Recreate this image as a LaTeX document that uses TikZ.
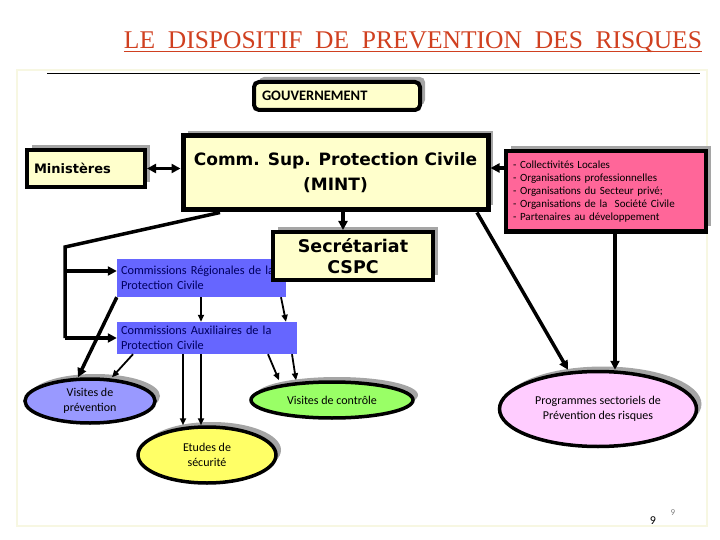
\documentclass[tikz,border=0pt]{standalone}
\usepackage{fontspec}
\setmainfont{Liberation Serif}
\newfontfamily\calibfont{Carlito}
\newfontfamily\heavyfont{DejaVu Sans}
\usetikzlibrary{shapes.geometric, arrows.meta, shadows}
\definecolor{titlered}{RGB}{208,64,32}
\definecolor{paleyellow}{RGB}{255,255,204}
\definecolor{combleu}{RGB}{102,102,255}
\definecolor{navytext}{RGB}{0,0,96}
\definecolor{partnerpink}{RGB}{255,102,153}
\definecolor{prevblue}{RGB}{153,153,255}
\definecolor{etudeyellow}{RGB}{255,255,102}
\definecolor{ctrlgreen}{RGB}{153,255,102}
\definecolor{progpink}{RGB}{255,204,255}
\definecolor{shadowgray}{RGB}{165,165,165}
\definecolor{framecream}{RGB}{247,247,226}
\tikzset{
  greyshadow/.style={drop shadow={shadow xshift=5pt, shadow yshift=5pt, fill=shadowgray, opacity=1}},
  yellowbox/.style={rectangle, draw=black, line width=4pt, fill=paleyellow, greyshadow, inner sep=2pt},
  bluebox/.style={rectangle, fill=combleu, text=navytext, font=\calibfont\fontsize{12.3}{15}\selectfont, align=left, inner xsep=4pt, inner ysep=1pt},
  oval/.style={ellipse, draw=black, line width=3.5pt, greyshadow, inner sep=0pt, font=\calibfont\fontsize{12}{15}\selectfont, align=center},
  link/.style={line width=3.5pt, -{Triangle[length=9pt,width=9pt]}},
  thinlink/.style={line width=1.8pt, -{Triangle[length=7pt,width=6pt]}}
}

\begin{document}
\begin{tikzpicture}[x=1pt, y=-1pt]
  \useasboundingbox (0,0) rectangle (720,540);

  % ==========================================
  % 1. TITRE ET CADRE
  % ==========================================
  \draw[framecream, line width=2pt] (17,70) rectangle (707,526);
  \node[font=\fontsize{25.5}{28}\selectfont, text=titlered, inner sep=0pt] (titre) at (413,42)
    {LE\ \ DISPOSITIF\ \ DE\ \ PREVENTION\ \ DES\ \ RISQUES};
  \draw[titlered, line width=1.6pt] ([yshift=-3pt]titre.base west) -- ([yshift=-3pt]titre.base east);
  \draw[line width=0.8pt] (47,73) -- (700,73);

  % ==========================================
  % 2. BOITES DU HAUT
  % ==========================================
  \node[yellowbox, rounded corners=5pt, minimum width=166pt, minimum height=28pt,
        text width=150pt, align=left, font=\calibfont\bfseries\fontsize{14.5}{16}\selectfont] (gouv) at (337,96) {GOUVERNEMENT};

  \node[yellowbox, line width=5pt, minimum width=305pt, minimum height=74pt, align=center,
        font=\heavyfont\bfseries\fontsize{17}{25}\selectfont] (comm) at (335.5,173) {Comm. Sup. Protection Civile\\(MINT)};

  \node[yellowbox, minimum width=118pt, minimum height=37pt, text width=104pt, align=left,
        font=\heavyfont\bfseries\fontsize{13}{15}\selectfont] (minist) at (86,168.5) {Ministères};

  \node[yellowbox, fill=partnerpink, minimum width=200pt, minimum height=80pt, text width=186pt, align=left,
        font=\calibfont\fontsize{11}{13}\selectfont] (partners) at (606,191.5)
        {- Collectivités Locales\\- Organisations professionnelles\\- Organisations du Secteur privé;\\- Organisations de la\ \ Société Civile\\- Partenaires au développement};

  % ==========================================
  % 3. COMMISSIONS ET SECRETARIAT
  % ==========================================
  \node[bluebox, minimum width=169pt, minimum height=38pt, text width=161pt] (creg) at (201.5,278)
        {Commissions Régionales de la\\Protection Civile};
  \node[bluebox, minimum width=180pt, minimum height=32pt, text width=172pt] (caux) at (207,338)
        {Commissions Auxiliaires de la\\Protection Civile};

  \node[yellowbox, minimum width=160pt, minimum height=48pt, align=center,
        font=\heavyfont\bfseries\fontsize{17.5}{21}\selectfont] (secr) at (353,256) {Secrétariat\\CSPC};

  % ==========================================
  % 4. ACTIONS (ellipses)
  % ==========================================
  \node[oval, fill=prevblue, minimum width=130pt, minimum height=44pt] (vprev) at (90,401) {Visites de\\prévention};
  \node[oval, fill=etudeyellow, minimum width=138pt, minimum height=56pt] (etudes) at (207,455) {Etudes de\\sécurité};
  \node[oval, fill=ctrlgreen, minimum width=162pt, minimum height=36pt] (vctrl) at (332,400) {Visites de contrôle};
  \node[oval, fill=progpink, minimum width=197pt, minimum height=75pt] (prog) at (598,409) {Programmes sectoriels de\\Prévention des risques};

  % ==========================================
  % 5. LIAISONS
  % ==========================================
  \draw[line width=3.5pt, {Triangle[length=9pt,width=9pt]}-{Triangle[length=9pt,width=9pt]}] (minist.east) -- (comm.west |- minist.east);
  \draw[link] (partners.west |- 0,168) -- (comm.east |- 0,168);
  \draw[link] (comm.south -| 343,0) -- (secr.north -| 343,0);

  % accolade de gauche vers les commissions
  \coordinate (brtop) at (65,247);
  \coordinate (brbot) at (65,338);
  \draw[line width=3.5pt] (comm.south -| 220,0) -- (brtop) -- (brbot);
  \draw[link] (brtop |- 0,271) -- (creg.west |- 0,271);
  \draw[link] (brbot) -- (caux.west |- brbot);

  % commissions regionales -> auxiliaires
  \draw[thinlink] (creg.south -| 201,0) -- (caux.north -| 201,0);
  \draw[thinlink] (creg.south -| 281,0) -- (caux.north -| 286,0);

  % vers les actions
  \draw[link] (creg.south west) -- (vprev.north -| 78,0);
  \draw[thinlink] (caux.south -| 133,0) -- (vprev.north -| 112,0);
  \draw[thinlink] (caux.south -| 183,0) -- (etudes.north -| 183,0);
  \draw[thinlink] (caux.south -| 201,0) -- (etudes.north -| 201,0);
  \draw[thinlink] (caux.south -| 268,0) -- (vctrl.north -| 279,0);
  \draw[thinlink] (caux.south -| 292,0) -- (vctrl.north -| 296,0);

  % vers les programmes sectoriels
  \draw[link] (comm.south -| 477,0) -- (prog.north -| 568,0);
  \draw[link] (partners.south -| 615,0) -- (prog.north -| 615,0);

  % numero de page
  \node[font=\calibfont\fontsize{12}{14}\selectfont] (pnum) at (653,521) {9};
  \node[font=\calibfont\fontsize{9}{11}\selectfont, text=gray] (pnumb) at (673,513) {9};
\end{tikzpicture}
\end{document}
